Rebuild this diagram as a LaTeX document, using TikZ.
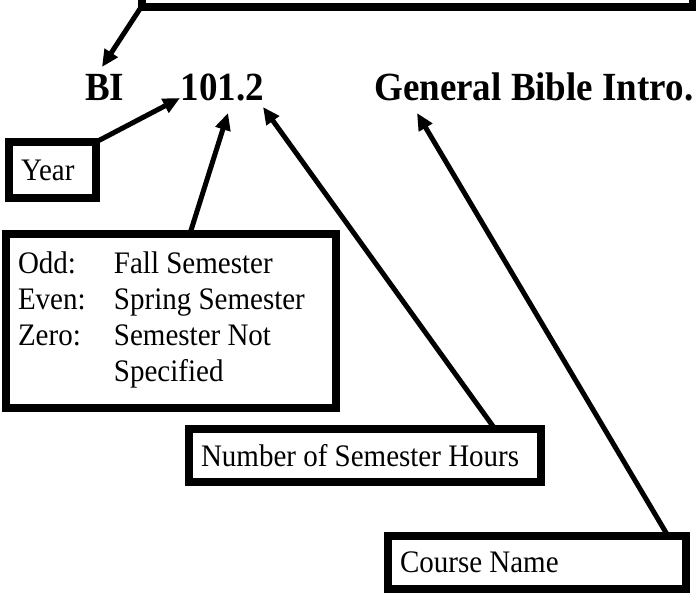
\documentclass[tikz,border=0pt]{standalone}
\usepackage{fontspec}
\usepackage{graphicx}
\setmainfont{Liberation Serif}
\usetikzlibrary{arrows.meta, positioning}
\newcommand{\tallText}[1]{\scalebox{1}[1.08]{#1}}

\begin{document}
\begin{tikzpicture}[
    x=1pt, y=-1pt,
    infobox/.style={rectangle, draw=black, line width=8pt, outer sep=0pt, inner sep=0pt, font=\fontsize{29}{33.3}\selectfont},
    coursecode/.style={inner sep=0pt, font=\fontsize{37}{42}\selectfont\bfseries},
    pointer/.style={-{Triangle[length=17pt, width=15pt]}, line width=5pt}
]
\useasboundingbox (0,0) rectangle (696,592);

% Course code line
\node[coursecode, anchor=base west] (bi) at (85,100) {\tallText{BI}};
\node[coursecode, base right=56pt of bi] (num) {\tallText{101.2}};
\node[coursecode, base right=110pt of num] (title) {\tallText{General Bible Intro.}};

% Boxes
\node[infobox, anchor=south west, minimum width=551.5pt, minimum height=80pt] (dept) at (141.5,6.5) {};
\node[infobox, minimum width=87pt, minimum height=56pt] (year) at (52.5,170) {\tallText{\makebox[63pt][l]{Year}}};
\node[infobox, minimum width=330pt, minimum height=174pt] (term) at (171,320.5) {%
  \tallText{\begin{tabular}{@{}p{96pt}@{}p{210pt}@{}}
  Odd:  & Fall Semester\\
  Even: & Spring Semester\\
  Zero: & Semester Not\\
        & Specified
  \end{tabular}}};
\node[infobox, minimum width=352pt, minimum height=53pt] (hours) at (365,455.5) {\tallText{\makebox[328pt][l]{Number of Semester Hours}}};
\node[infobox, minimum width=298pt, minimum height=53pt] (course) at (537,562.5) {\tallText{\makebox[274pt][l]{Course Name}}};

% Arrow tips
\coordinate (bi-tip) at (102,67);
\coordinate (year-tip) at (180,98);
\coordinate (term-tip) at (228,113);
\coordinate (hours-tip) at (263,107);
\coordinate (course-tip) at (417,113);

% Pointers
\draw[pointer] (dept.south west) -- (bi-tip);
\draw[pointer] (year.north east) -- (year-tip);
\draw[pointer] ([xshift=19pt]term.north) -- (term-tip);
\draw[pointer] ([xshift=-46pt]hours.north east) -- (hours-tip);
\draw[pointer] ([xshift=-18pt]course.north east) -- (course-tip);

\end{tikzpicture}
\end{document}
